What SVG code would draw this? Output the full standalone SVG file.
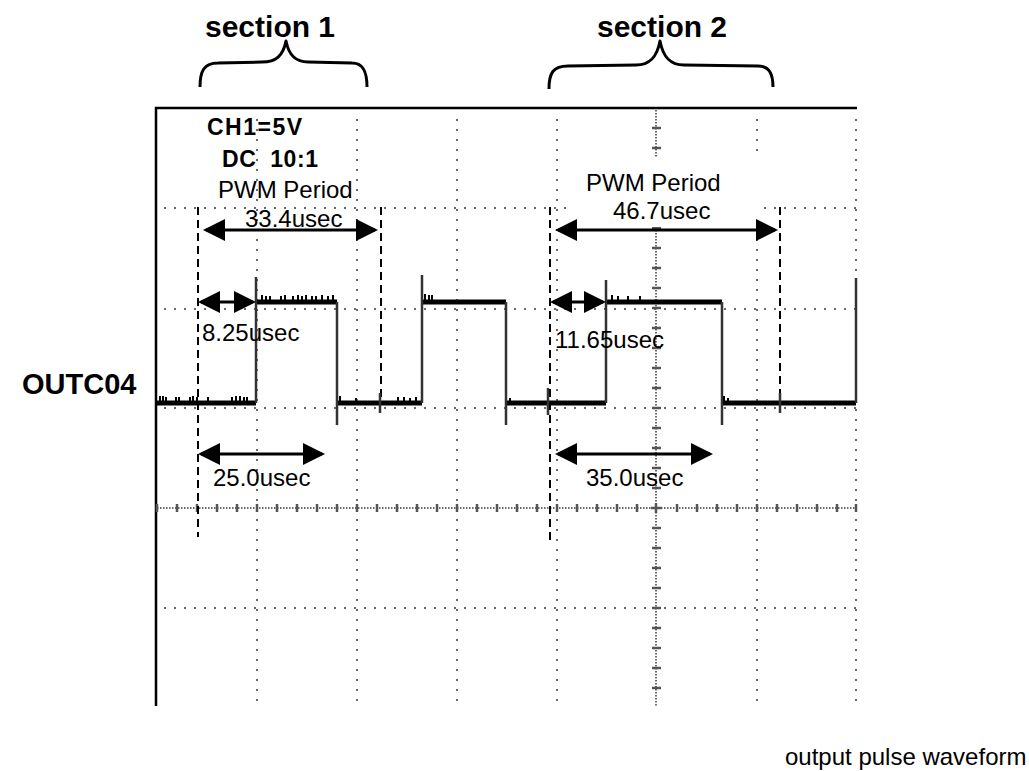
<svg xmlns="http://www.w3.org/2000/svg" width="1029" height="771" viewBox="0 0 1029 771">
  <style>
    .lbl { font-family: "Liberation Sans", Arial, sans-serif; font-size: 24px; fill: #000; }
    .bold { font-family: "Liberation Sans", Arial, sans-serif; font-weight: bold; fill: #000; }
    .grid { stroke: #6a6a6a; stroke-width: 2; stroke-dasharray: 2 8; fill: none; }
    .fine { stroke: #6a6a6a; stroke-width: 2; stroke-dasharray: 1.5 1.5; fill: none; }
    .tick { stroke: #555; stroke-width: 2.5; fill: none; }
    .frame { stroke: #000; stroke-width: 2.5; fill: none; }
    .cursor { stroke: #000; stroke-width: 2; stroke-dasharray: 8 5; fill: none; }
    .level { stroke: #000; stroke-width: 5; fill: none; }
    .edge { stroke: #333; stroke-width: 2.5; fill: none; }
    .noise { stroke: #000; stroke-width: 2; fill: none; }
    .brace { stroke: #000; stroke-width: 3; fill: none; stroke-linejoin: round; }
    .dim { stroke: #000; stroke-width: 3; fill: none; marker-start: url(#head); marker-end: url(#head); }
  </style>
  <defs>
    <marker id="head" markerUnits="userSpaceOnUse" markerWidth="22" markerHeight="22" refX="19" refY="11" orient="auto-start-reverse">
      <path d="M0,0 L22,11 L0,22 z" fill="#000"/>
    </marker>
  </defs>

  <rect width="1029" height="771" fill="#fff"/>

  <!-- section headers with braces -->
  <g id="section1">
    <text class="bold" x="205" y="37" font-size="30">section 1</text>
    <path class="brace" d="M200,87 C200,71 204,63 218,63 L262,62 C276,62 283,56 286,41 C289,56 296,62 308,62 L352,63 C364,63 367,73 367,87"/>
  </g>
  <g id="section2">
    <text class="bold" x="597" y="37" font-size="30">section 2</text>
    <path class="brace" d="M549,89 C549,73 553,66 568,66 L636,65 C650,65 657,57 660,41 C663,57 670,65 684,65 L758,66 C770,66 773,75 773,87"/>
  </g>

  <g id="signal-name">
    <text class="bold" x="22" y="394" font-size="29">OUTC04</text>
  </g>

  <!-- scope screen: frame and graticule -->
  <g id="screen">
    <path class="frame" d="M156,706 V108 H857"/>
    <path class="grid" d="M257,119 V706 M357,119 V706 M457,119 V706 M557,119 V706 M757,119 V706 M856,119 V706"/>
    <path class="grid" d="M164,208 H856 M164,309 H856 M164,408 H856 M164,608 H856"/>
    <!-- centre axes with minor divisions -->
    <path class="fine" d="M157,508 H857 M656,110 V706"/>
    <path class="tick" d="M157,504v8 M177,504v8 M197,504v8 M217,504v8 M237,504v8 M257,504v8 M277,504v8 M297,504v8 M317,504v8 M337,504v8 M357,504v8 M377,504v8 M397,504v8 M417,504v8 M437,504v8 M457,504v8 M477,504v8 M497,504v8 M517,504v8 M537,504v8 M557,504v8 M577,504v8 M597,504v8 M617,504v8 M637,504v8 M656,503v10 M677,504v8 M697,504v8 M717,504v8 M737,504v8 M757,504v8 M777,504v8 M797,504v8 M817,504v8 M837,504v8 M856,504v8"/>
    <path class="tick" d="M652,128h9 M652,148h9 M652,168h9 M652,188h9 M652,208h9 M652,228h9 M652,248h9 M652,268h9 M652,288h9 M652,308h9 M652,328h9 M652,348h9 M652,368h9 M652,388h9 M652,408h9 M652,428h9 M652,448h9 M652,468h9 M652,488h9 M651,508h11 M652,528h9 M652,548h9 M652,568h9 M652,588h9 M652,608h9 M652,628h9 M652,648h9 M652,668h9 M652,688h9"/>
  </g>

  <!-- on-screen readouts -->
  <g id="readout">
    <text class="bold" x="207" y="135" font-size="23" textLength="95">CH1=5V</text>
    <text class="bold" x="222" y="167" font-size="23" textLength="96" xml:space="preserve">DC  10:1</text>
  </g>

  <!-- cursor lines -->
  <g id="cursors">
    <path class="cursor" d="M198,207 V537 M381,207 V400 M550,207 V540 M780,207 V400"/>
  </g>

  <!-- waveform trace -->
  <g id="trace">
    <path class="level" d="M157,403 H256 M256,302 H337 M337,403 H422 M422,302 H506 M506,403 H606 M606,302 H722 M722,403 H856"/>
    <path class="edge" d="M256,403 V277 M337,302 V425 M422,403 V275 M506,302 V425 M606,403 V280 M722,302 V425 M856,403 V278"/>
    <path class="edge" d="M380,393 V413 M548,388 V415 M780,393 V413"/>
    <path class="noise" d="M160,401v-5 M163,401v-5 M166,401v-4 M176,401v-4 M179,401v-4 M190,401v-4 M193,401v-5 M197,401v-4 M208,401v-4 M232,401v-4 M236,401v-5 M240,401v-5 M244,401v-4 M247,401v-4
      M262,300v-5 M266,300v-4 M270,300v-4 M281,300v-4 M285,300v-5 M293,300v-4 M298,300v-5 M302,300v-4 M306,300v-5 M312,300v-4 M316,300v-4 M322,300v-5 M328,300v-4 M333,300v-5
      M425,300v-6 M429,300v-5 M432,300v-5
      M612,300v-5 M618,300v-4 M628,300v-4 M640,300v-4
      M340,401v-5 M356,401v-3 M398,401v-4 M404,401v-4 M410,401v-3 M416,401v-4
      M510,401v-3 M724,401v-5 M728,401v-3"/>
  </g>

  <!-- period and duty measurements -->
  <g id="label-box-2">
    <rect x="566" y="157" width="197" height="70" fill="#fff"/>
  </g>
  <g id="period1">
    <text class="lbl" x="218" y="198">PWM Period</text>
    <text class="lbl" x="245" y="227">33.4usec</text>
  </g>
  <g id="period2">
    <text class="lbl" x="586" y="191">PWM Period</text>
    <text class="lbl" x="613" y="219">46.7usec</text>
  </g>
  <g id="width1">
    <text class="lbl" x="202" y="341">8.25usec</text>
  </g>
  <g id="width2">
    <text class="lbl" x="555" y="348">11.65usec</text>
  </g>
  <g id="span1">
    <text class="lbl" x="213" y="486">25.0usec</text>
  </g>
  <g id="span2">
    <text class="lbl" x="586" y="486">35.0usec</text>
  </g>

  <g id="dimension-arrows">
    <line class="dim" x1="206" y1="230" x2="375" y2="230"/>
    <line class="dim" x1="558" y1="230" x2="775" y2="230"/>
    <line class="dim" x1="201" y1="302" x2="253" y2="302"/>
    <line class="dim" x1="553" y1="302" x2="603" y2="302"/>
    <line class="dim" x1="201" y1="454" x2="322" y2="454"/>
    <line class="dim" x1="558" y1="454" x2="710" y2="454"/>
  </g>

  <g id="caption">
    <text class="lbl" x="785" y="765">output pulse waveform</text>
  </g>
</svg>
